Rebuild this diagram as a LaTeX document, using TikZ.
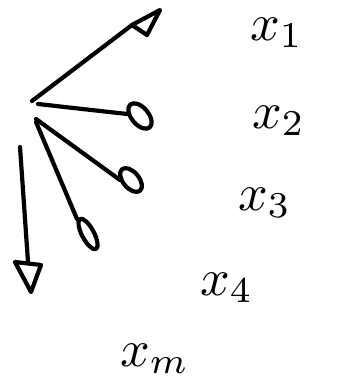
\documentclass[tikz,border=0pt]{standalone}
\usetikzlibrary{calc}
\newcommand{\biglbl}[1]{\scalebox{5.2}{$#1$}}
\begin{document}
\begin{tikzpicture}[x=1pt,y=-1pt,
  stroke/.style={line width=4.2pt,line cap=round,line join=round},
  lbl/.style={anchor=base west,inner sep=0pt}]
\useasboundingbox (0,0) rectangle (339,388);
% hub points
\coordinate (h1) at (32,101);
\coordinate (h2) at (38,104);
\coordinate (h3) at (36,119);
\coordinate (h4) at (36,122);
\coordinate (h5) at (20,147);
% ends
\coordinate (e1) at (132,25);
\coordinate (e2) at (127,114);
\coordinate (e3) at (120,180);
\coordinate (e4) at (77,219);
\coordinate (e5) at (28,262);
% connectors
\draw[stroke] (h1) -- (e1);
\draw[stroke] (h2) -- (e2);
\draw[stroke] (h3) -- (e3);
\draw[stroke] (h4) -- (e4);
\draw[stroke] (h5) -- (e5);
% arrowhead triangles
\draw[stroke] (e1) -- (160,10) -- (147,35) -- cycle;
\draw[stroke] (15,262) -- (41,265) -- (31,292) -- cycle;
% ellipses
\draw[stroke,rotate around={-50:(140,116)}] (140,116) ellipse[x radius=15,y radius=8.5];
\draw[stroke,rotate around={-50:(131,180)}] (131,180) ellipse[x radius=14,y radius=8];
\draw[stroke,rotate around={-62:(88,234)}] (88,234) ellipse[x radius=17,y radius=6];
% labels
\node[lbl] (l1) at (250,40) {\biglbl{x_1}};
\node[lbl] (l2) at (252,128) {\biglbl{x_2}};
\node[lbl] (l3) at (238,210) {\biglbl{x_3}};
\node[lbl] (l4) at (200,295) {\biglbl{x_4}};
\node[lbl] (l5) at (120,366) {\biglbl{x_m}};
\end{tikzpicture}
\end{document}
